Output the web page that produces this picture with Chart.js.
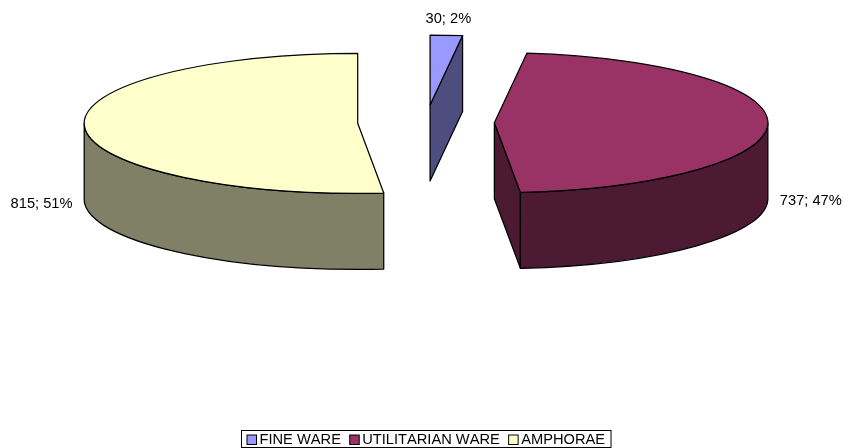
<!DOCTYPE html>
<html>
<head>
<meta charset="utf-8">
<style>
  html, body { margin: 0; padding: 0; background: #fff; }
  #chart { display: block; }
</style>
<script src="https://cdn.jsdelivr.net/npm/chart.js@4"></script>
</head>
<body>
<canvas id="chart" width="843" height="448"></canvas>
<script>
const categories = ["FINE WARE", "UTILITARIAN WARE", "AMPHORAE"];
const values = [30, 737, 815];
const pointLabels = ["30; 2%", "737; 47%", "815; 51%"];
const topColors = ["#9999FF", "#993366", "#FFFFCC"];
const sideColors = ["#4D4D80", "#4D1A33", "#808066"];

const FONT = '14.67px "Liberation Sans", Arial, sans-serif';
const PIE_RADIUS = 273.5;
const PIE_CENTER_Y = 122.5;
const SQUASH = 70 / 273.5;
const DEPTH = 76;
const EXPLODE = 0.25;
const LINE_WIDTH = 1.25;

// the library legend has a fixed box to text gap, so this one is drawn here
function drawLegend(ctx) {
    const left = 241.5, top = 430.5, height = 17, gap = 8.8;
    ctx.save();
    ctx.font = FONT;
    ctx.fontKerning = "none";
    ctx.textBaseline = "middle";
    ctx.textAlign = "left";
    ctx.lineWidth = 1;
    ctx.strokeStyle = "#000";
    let x = left + 5.5;
    categories.forEach((name, i) => {
        ctx.fillStyle = topColors[i];
        ctx.fillRect(x, top + 4.5, 9.5, 9.5);
        ctx.strokeRect(x, top + 4.5, 9.5, 9.5);
        ctx.fillStyle = "#000";
        ctx.fillText(name, x + 12.5, top + 9.5);
        x += 12.5 + ctx.measureText(name).width + gap;
    });
    ctx.strokeRect(left, top, x - gap + 6 - left, height);
    ctx.restore();
}

// fake 3d: the library's arcs get squashed, walls are added from their geometry
const pie3d = {
    id: "pie3d",
    beforeDatasetsDraw(chart) {
        const { ctx } = chart;
        chart.getDatasetMeta(0).data.forEach((arc, i) => {
            const { x, y, startAngle, endAngle, outerRadius } = arc.getProps(["x", "y", "startAngle", "endAngle", "outerRadius"]);
            const mid = (startAngle + endAngle) / 2;
            const shift = outerRadius * EXPLODE;
            const cx = x + Math.cos(mid) * shift;
            const cy = PIE_CENTER_Y + Math.sin(mid) * shift * SQUASH;
            const rx = outerRadius;
            const ry = outerRadius * SQUASH;

            ctx.save();
            ctx.lineWidth = LINE_WIDTH;
            ctx.lineJoin = "round";
            ctx.strokeStyle = "#000";
            ctx.fillStyle = sideColors[i];

            const wall = (angle) => {
                const px = cx + Math.cos(angle) * rx;
                const py = cy + Math.sin(angle) * ry;
                ctx.beginPath();
                ctx.moveTo(cx, cy);
                ctx.lineTo(px, py);
                ctx.lineTo(px, py + DEPTH);
                ctx.lineTo(cx, cy + DEPTH);
                ctx.closePath();
                ctx.fill();
                ctx.stroke();
            };
            if (Math.cos(startAngle) < -0.001) wall(startAngle);
            if (Math.cos(endAngle) > 0.001) wall(endAngle);

            const from = Math.max(startAngle, 0);
            const to = Math.min(endAngle, Math.PI);
            if (from < to) {
                ctx.beginPath();
                ctx.ellipse(cx, cy, rx, ry, 0, from, to);
                ctx.ellipse(cx, cy + DEPTH, rx, ry, 0, to, from, true);
                ctx.closePath();
                ctx.fill();
                ctx.stroke();
            }

            ctx.save();
            ctx.translate(cx, cy);
            ctx.scale(1, SQUASH);
            ctx.translate(-x, -y);
            arc.draw(ctx);
            ctx.restore();

            ctx.beginPath();
            ctx.moveTo(cx, cy);
            ctx.ellipse(cx, cy, rx, ry, 0, startAngle, endAngle);
            ctx.closePath();
            ctx.stroke();

            // data label next to the slice
            const lx = cx + Math.cos(mid) * rx;
            const ly = cy + Math.sin(mid) * ry;
            ctx.fillStyle = "#000";
            ctx.font = FONT;
            ctx.textBaseline = "middle";
            if (Math.abs(Math.cos(mid)) < 0.3) {
                ctx.textAlign = "center";
                ctx.fillText(pointLabels[i], lx + 2, ly - 16);
            } else {
                ctx.textAlign = Math.cos(mid) > 0 ? "left" : "right";
                ctx.fillText(pointLabels[i], lx + Math.sign(Math.cos(mid)) * 12, ly + DEPTH + 1);
            }
            ctx.restore();
        });
        drawLegend(ctx);
        return false;
    }
};

new Chart(document.getElementById("chart"), {
    type: "pie",
    data: {
        labels: categories,
        datasets: [{
            data: values,
            backgroundColor: topColors,
            borderWidth: 0
        }]
    },
    options: {
        responsive: false,
        animation: false,
        events: [],
        radius: PIE_RADIUS,
        layout: { padding: { left: 9 } },
        plugins: {
            tooltip: { enabled: false },
            legend: { display: false }
        }
    },
    plugins: [pie3d]
});
</script>
</body>
</html>
